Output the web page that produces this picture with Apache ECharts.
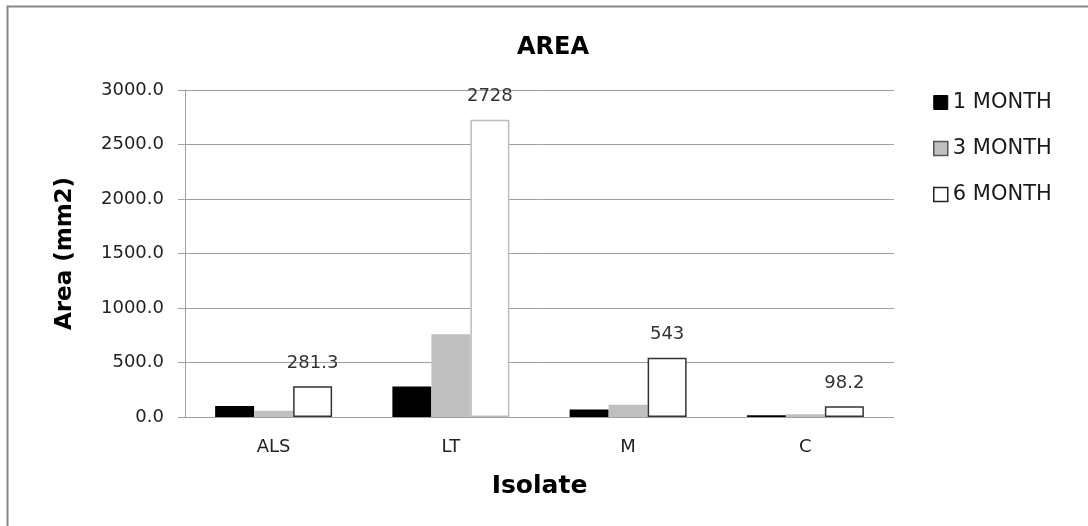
<!DOCTYPE html>
<html>
<head>
<meta charset="utf-8">
<script src="https://cdn.jsdelivr.net/npm/echarts@6/dist/echarts.min.js"></script>
<style>html,body{margin:0;padding:0;background:#fff}#c{width:1088px;height:526px}</style>
</head>
<body>
<div id="c"></div>
<script>
const categories = ['ALS', 'LT', 'M', 'C'];
const seriesNames = ['1 MONTH', '3 MONTH', '6 MONTH'];
const month1 = [100, 280, 68, 15];
const month3 = [58, 760, 113, 25];
const month6 = [281.3, 2728, 543, 98.2];
const month6Labels = ['281.3', '2728', '543', '98.2'];
const yTicks = [0, 500, 1000, 1500, 2000, 2500, 3000];

const FONT = 'DejaVu Sans';
const chart = echarts.init(document.getElementById('c'), null, {renderer: 'canvas'});
chart.setOption({
  animation: false,
  backgroundColor: '#fff',
  graphic: [{
    type: 'rect', left: 5, top: 4, shape: {width: 1100, height: 540},
    style: {fill: 'none', stroke: '#868686', lineWidth: 2}, z: -1
  }],
  title: {
    text: 'AREA', left: 512, top: 31,
    textStyle: {fontFamily: FONT, fontWeight: 'bold', fontSize: 24, color: '#000'}
  },
  legend: {
    orient: 'vertical', left: 928, top: 87, itemGap: 25,
    itemWidth: 14, itemHeight: 14, icon: 'rect',
    textStyle: {fontFamily: FONT, fontSize: 21, color: '#1a1a1a'},
    data: [
      {name: seriesNames[0], itemStyle: {color: '#000', borderColor: '#000', borderWidth: 1}},
      {name: seriesNames[1], itemStyle: {color: '#c0c0c0', borderColor: '#555', borderWidth: 1.5}},
      {name: seriesNames[2], itemStyle: {color: '#fff', borderColor: '#222', borderWidth: 1.5}}
    ]
  },
  grid: {left: 185, right: 194, top: 90, bottom: 109, containLabel: false},
  xAxis: {
    type: 'category', data: categories,
    name: 'Isolate', nameLocation: 'middle', nameGap: 57,
    nameTextStyle: {fontFamily: FONT, fontWeight: 'bold', fontSize: 25, color: '#000'},
    axisLine: {lineStyle: {color: '#a0a0a0', width: 1}},
    axisTick: {show: false},
    axisLabel: {fontFamily: FONT, fontSize: 18, color: '#222', margin: 21}
  },
  yAxis: {
    type: 'value', min: yTicks[0], max: yTicks[yTicks.length - 1], interval: 500,
    name: 'Area (mm2)', nameLocation: 'middle', nameGap: 108,
    nameTextStyle: {fontFamily: FONT, fontWeight: 'bold', fontSize: 23, color: '#000'},
    axisLine: {show: true, lineStyle: {color: '#a0a0a0', width: 1}},
    axisTick: {show: true, inside: false, length: 7, lineStyle: {color: '#a0a0a0'}},
    splitLine: {lineStyle: {color: '#a0a0a0', width: 1}},
    axisLabel: {fontFamily: FONT, fontSize: 18, color: '#222', margin: 21,
      formatter: v => v.toFixed(1)}
  },
  series: [
    {name: seriesNames[0], type: 'bar', data: month1, barGap: '0%', barCategoryGap: '34%',
     itemStyle: {color: '#000'}},
    {name: seriesNames[1], type: 'bar', data: month3, barGap: '0%', barCategoryGap: '34%',
     itemStyle: {color: '#c0c0c0'}},
    {name: seriesNames[2], type: 'bar', barGap: '0%', barCategoryGap: '34%',
     data: month6.map((v, i) => i === 1
       ? {value: v, itemStyle: {color: '#fff', borderColor: '#bdbdbd', borderWidth: 1.5}}
       : {value: v}),
     itemStyle: {color: '#fff', borderColor: '#333', borderWidth: 1.5},
     label: {show: true, position: 'top', distance: 14,
       fontFamily: FONT, fontSize: 18, color: '#333',
       formatter: p => month6Labels[p.dataIndex]}}
  ]
});
</script>
</body>
</html>
